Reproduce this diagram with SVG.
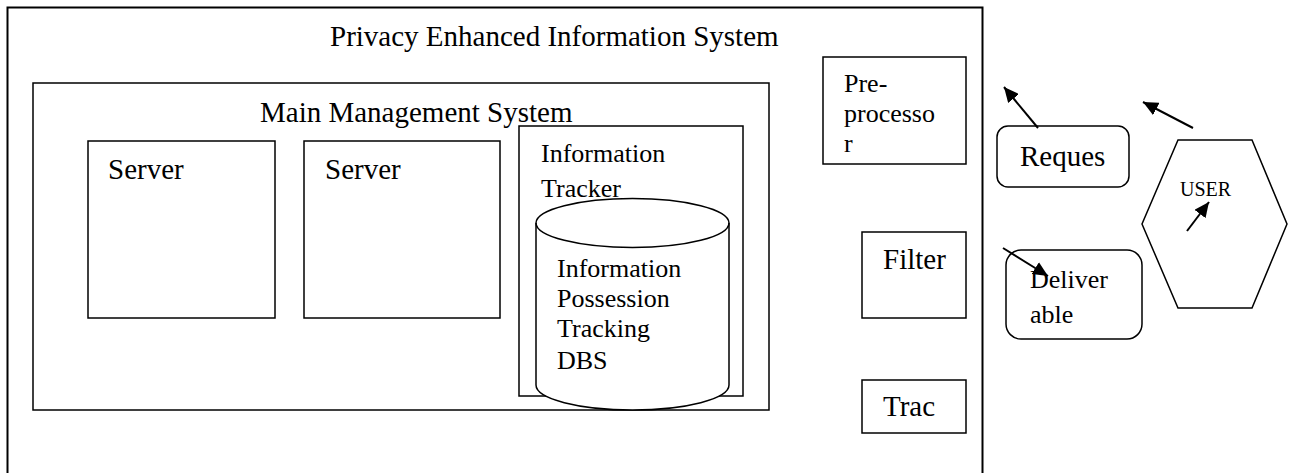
<svg xmlns="http://www.w3.org/2000/svg" width="1291" height="473" viewBox="0 0 1291 473">
<style>
.box{fill:none;stroke:#000;stroke-width:1.5}
.outer{fill:none;stroke:#000;stroke-width:2}
.t{font-family:"Liberation Serif","Times New Roman",serif;fill:#000}
.conn{stroke:#000;stroke-width:2;fill:none}
</style>
<defs>
<marker id="ah" markerUnits="userSpaceOnUse" markerWidth="16" markerHeight="14" refX="15" refY="7" orient="auto">
<path d="M0,0 L15,7 L0,14 z" fill="#000"/>
</marker>
</defs>
<rect width="1291" height="473" fill="#fff"/>
<g id="pe-system">
<path class="outer" d="M7.5,480 L7.5,7.5 L982.5,7.5 L982.5,480"/>
<text class="t" x="330" y="46" font-size="29">Privacy Enhanced Information System</text>
</g>
<g id="main-management">
<rect class="box" x="33" y="83" width="736" height="327"/>
<text class="t" x="260" y="122" font-size="29">Main Management System</text>
</g>
<g id="server1">
<rect class="box" x="88" y="141" width="187" height="177"/>
<text class="t" x="108" y="179" font-size="29">Server</text>
</g>
<g id="server2">
<rect class="box" x="304" y="141" width="196" height="177"/>
<text class="t" x="325" y="179" font-size="29">Server</text>
</g>
<g id="info-tracker">
<rect class="box" x="519" y="126" width="224" height="270"/>
<text class="t" x="541" y="162" font-size="26">Information</text>
<text class="t" x="541" y="197" font-size="26">Tracker</text>
</g>
<g id="dbs">
<path class="box" fill="#fff" style="fill:#fff" d="M536,223 L536,385 A96.5,25 0 0 0 729,385 L729,223 A96.5,24.5 0 0 0 536,223 Z"/>
<path class="box" d="M536,223 A96.5,24.5 0 0 0 729,223"/>
<text class="t" x="557" y="277" font-size="26">Information</text>
<text class="t" x="557" y="307" font-size="26">Possession</text>
<text class="t" x="557" y="337" font-size="26">Tracking</text>
<text class="t" x="557" y="369" font-size="26">DBS</text>
</g>
<g id="preprocessor">
<rect class="box" x="823" y="57" width="143" height="107"/>
<text class="t" x="844" y="92" font-size="26">Pre-</text>
<text class="t" x="844" y="122" font-size="26">processo</text>
<text class="t" x="844" y="152" font-size="26">r</text>
</g>
<g id="filter">
<rect class="box" x="862" y="232" width="104" height="86"/>
<text class="t" x="883" y="269" font-size="29">Filter</text>
</g>
<g id="trac">
<rect class="box" x="862" y="380" width="104" height="53"/>
<text class="t" x="883" y="416" font-size="29">Trac</text>
</g>
<g id="request">
<rect class="box" x="997" y="126" width="132" height="61" rx="11"/>
<text class="t" x="1020" y="166" font-size="29">Reques</text>
</g>
<g id="deliverable">
<rect class="box" x="1006" y="250" width="136" height="89" rx="15"/>
<text class="t" x="1030" y="288" font-size="26">Deliver</text>
<text class="t" x="1030" y="323" font-size="26">able</text>
</g>
<g id="user">
<polygon class="box" points="1178,140 1252,140 1287,224 1252,308 1178,308 1142,224"/>
<text class="t" x="1180" y="196" font-size="20">USER</text>
</g>
<g id="connectors">
<line class="conn" x1="1038" y1="128" x2="1004" y2="87" marker-end="url(#ah)"/>
<line class="conn" x1="1193" y1="128" x2="1143" y2="102" marker-end="url(#ah)"/>
<line class="conn" x1="1187" y1="231" x2="1209" y2="202" marker-end="url(#ah)"/>
<line class="conn" x1="1003" y1="248" x2="1048" y2="276" marker-end="url(#ah)"/>
</g>
</svg>
